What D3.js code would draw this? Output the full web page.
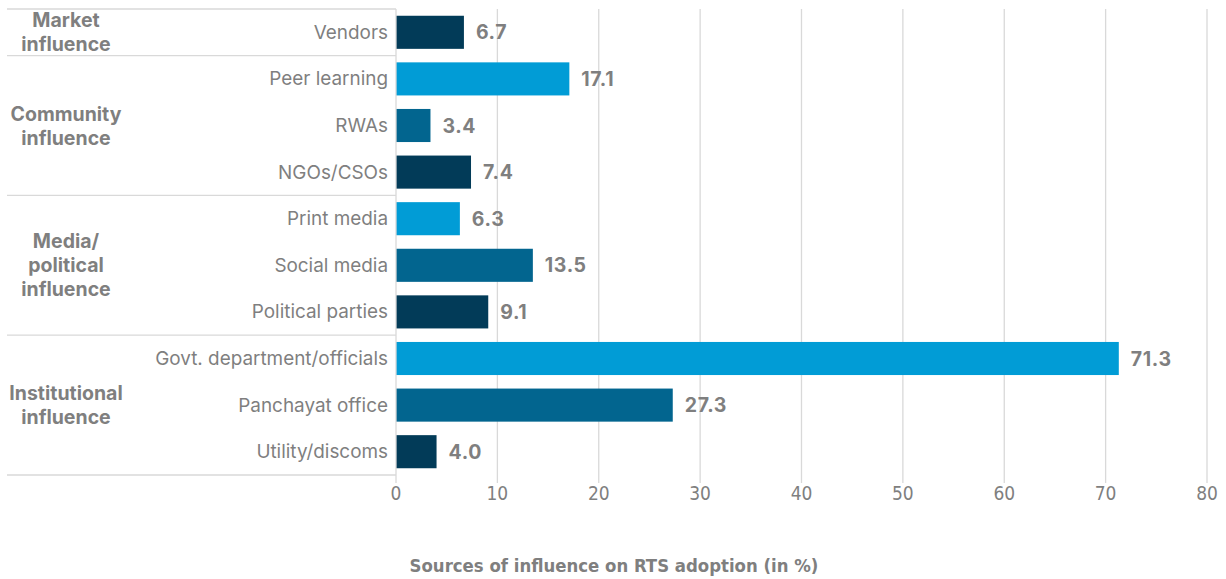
<!DOCTYPE html>
<html>
<head>
<meta charset="utf-8">
<script src="https://cdn.jsdelivr.net/npm/d3@7/dist/d3.min.js"></script>
<style>
  html, body { margin: 0; padding: 0; background: #ffffff; }
  svg { display: block; }
</style>
</head>
<body>
<svg id="chart" width="1226" height="579"></svg>
<script>
// Sources of influence on rooftop solar (RTS) adoption, in percent
const categories = [
  "Vendors", "Peer learning", "RWAs", "NGOs/CSOs",
  "Print media", "Social media", "Political parties",
  "Govt. department/officials", "Panchayat office", "Utility/discoms"
];
const values = [6.7, 17.1, 3.4, 7.4, 6.3, 13.5, 9.1, 71.3, 27.3, 4.0];
const shades = ["dark", "light", "mid", "dark", "light", "mid", "dark", "light", "mid", "dark"];

const groupNames = [
  ["Market", "influence"],
  ["Community", "influence"],
  ["Media/", "political", "influence"],
  ["Institutional", "influence"]
];
const groupSizes = [1, 3, 3, 3];

const xTicks = [0, 10, 20, 30, 40, 50, 60, 70, 80];
const axisTitle = "Sources of influence on RTS adoption (in %)";

const palette = { dark: "#023b58", mid: "#02658f", light: "#019cd6" };
const gray = "#7f7f7f";
const font = "Inter, 'Open Sans', sans-serif";
const narrow = "'Liberation Sans Narrow', 'DejaVu Sans Condensed', sans-serif";

const svg = d3.select("#chart");
const plot = { left: 396, right: 1207, top: 9, bottom: 475 };

const x = d3.scaleLinear().domain([0, 80]).range([plot.left, plot.right]);
const y = d3.scaleBand().domain(categories).range([plot.top, plot.bottom])
  .paddingInner(0.29).paddingOuter(0.145);

// vertical gridlines
svg.append("g").selectAll("line").data(xTicks.slice(1)).join("line")
  .attr("x1", d => x(d)).attr("x2", d => x(d))
  .attr("y1", plot.top).attr("y2", plot.bottom + 8)
  .attr("stroke", "#d9d9d9").attr("stroke-width", 1.3);

// bars
svg.append("g").selectAll("rect").data(categories).join("rect")
  .attr("x", x(0))
  .attr("y", d => y(d))
  .attr("width", (d, i) => x(values[i]) - x(0))
  .attr("height", y.bandwidth())
  .attr("fill", (d, i) => palette[shades[i]]);

// value labels
svg.append("g").selectAll("text").data(categories).join("text")
  .attr("x", (d, i) => x(values[i]) + 12)
  .attr("y", d => y(d) + y.bandwidth() / 2 + 7)
  .attr("font-family", font).attr("font-weight", 700).attr("font-size", 19.5)
  .attr("letter-spacing", 0.6)
  .attr("fill", gray)
  .text((d, i) => values[i].toFixed(1));

// category axis line
svg.append("line")
  .attr("x1", plot.left).attr("x2", plot.left)
  .attr("y1", plot.top).attr("y2", plot.bottom + 8)
  .attr("stroke", "#d9d9d9").attr("stroke-width", 1.3);

// category labels
svg.append("g").selectAll("text").data(categories).join("text")
  .attr("x", plot.left - 8)
  .attr("y", d => y(d) + y.bandwidth() / 2 + 6.5)
  .attr("text-anchor", "end")
  .attr("font-family", font).attr("font-size", 18.9)
  .attr("fill", gray)
  .text(d => d);

// group separators and labels
const step = y.step();
let start = 0;
const bounds = [];
groupSizes.forEach(n => { bounds.push([start, start + n]); start += n; });
const rowEdge = i => plot.top + i * step;

const sepYs = [0].concat(bounds.map(b => b[1]));
svg.append("g").selectAll("line").data(sepYs).join("line")
  .attr("x1", 7).attr("x2", plot.left)
  .attr("y1", d => rowEdge(d)).attr("y2", d => rowEdge(d))
  .attr("stroke", "#d9d9d9").attr("stroke-width", 1.3);

const gl = svg.append("g");
bounds.forEach((b, gi) => {
  const lines = groupNames[gi];
  const cy = (rowEdge(b[0]) + rowEdge(b[1])) / 2;
  const lh = 24;
  const t = gl.append("text")
    .attr("x", 66)
    .attr("text-anchor", "middle")
    .attr("font-family", font).attr("font-weight", 700).attr("font-size", 19.5)
    .attr("fill", gray);
  lines.forEach((ln, li) => {
    t.append("tspan").attr("x", 66)
      .attr("y", cy + (li - (lines.length - 1) / 2) * lh + 7)
      .text(ln);
  });
});

// x tick labels
svg.append("g").selectAll("text").data(xTicks).join("text")
  .attr("x", d => x(d))
  .attr("y", 500)
  .attr("text-anchor", "middle")
  .attr("font-family", narrow).attr("font-size", 19)
  .attr("fill", gray)
  .text(d => d);

// axis title
svg.append("text")
  .attr("x", 614).attr("y", 572)
  .attr("text-anchor", "middle")
  .attr("font-family", narrow).attr("font-weight", 700).attr("font-size", 18.4)
  .attr("fill", gray)
  .text(axisTitle);
</script>
</body>
</html>
